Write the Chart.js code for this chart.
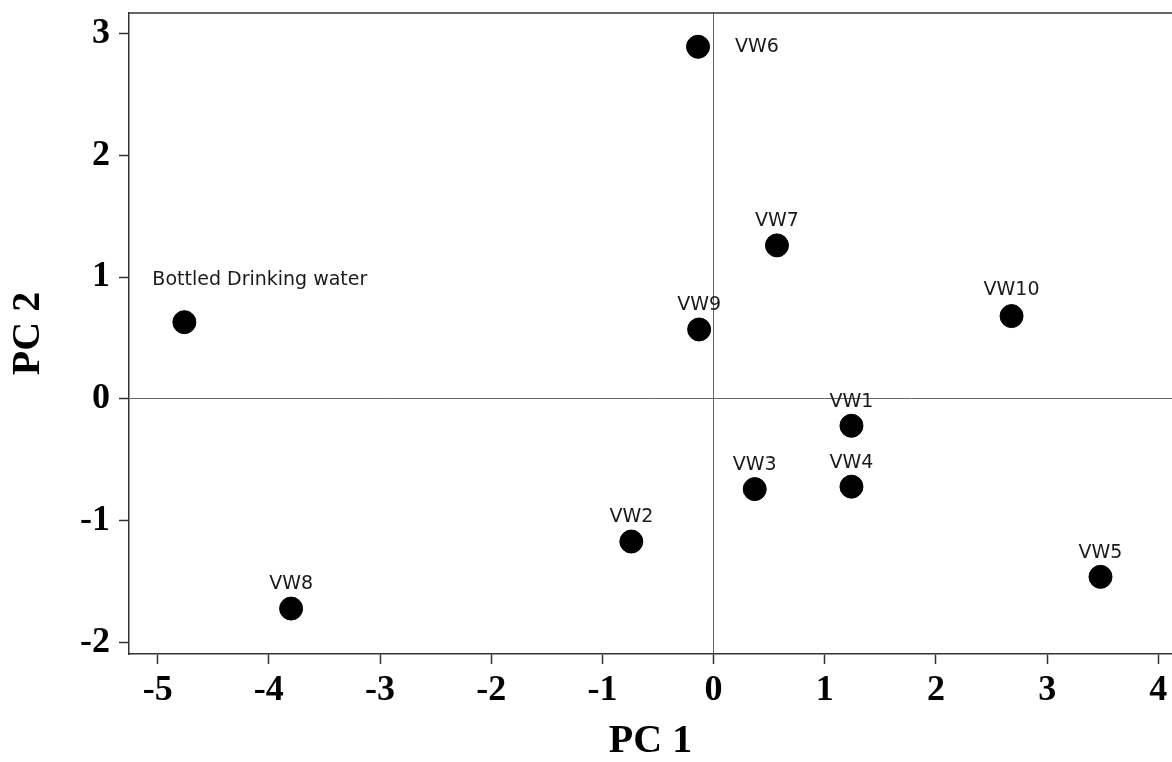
<!DOCTYPE html>
<html>
<head>
<meta charset="utf-8">
<script src="https://cdn.jsdelivr.net/npm/chart.js@4.4.1/dist/chart.umd.min.js"></script>
<style>
    html, body { margin: 0; padding: 0; background: #fff; overflow: hidden; }
    #wrap { width: 1172px; height: 762px; }
    canvas { display: block; }
</style>
</head>
<body>
<div id="wrap"><canvas id="chart" width="1172" height="762"></canvas></div>
<script>
// sample names and PCA scores
const samples = ['VW1', 'VW2', 'VW3', 'VW4', 'VW5', 'VW6', 'VW7', 'VW8', 'VW9', 'VW10', 'Bottled Drinking water'];
const pc1 = [1.24, -0.74, 0.37, 1.24, 3.48, -0.14, 0.57, -3.80, -0.13, 2.68, -4.76];
const pc2 = [-0.22, -1.17, -0.74, -0.72, -1.46, 2.89, 1.26, -1.72, 0.57, 0.68, 0.63];

const xTicks = [-5, -4, -3, -2, -1, 0, 1, 2, 3, 4];
const yTicks = [-2, -1, 0, 1, 2, 3];

// where each label sits relative to its point
const labelPlace = {
    'VW6': { dx: 37, dy: 0, align: 'left' },
    'VW10': { dx: 0, dy: -26, align: 'center' },
    'Bottled Drinking water': { dx: -32, dy: -42, align: 'left' }
};

const frameColor = '#333';
const zeroColor = '#666';

const pointLabels = {
    id: 'pointLabels',
    afterDatasetsDraw(chart) {
        const ctx = chart.ctx;
        const meta = chart.getDatasetMeta(0);
        ctx.save();
        ctx.font = '19px "DejaVu Sans"';
        ctx.fillStyle = '#1a1a1a';
        ctx.textBaseline = 'middle';
        meta.data.forEach((pt, i) => {
            const name = samples[i];
            const p = labelPlace[name] || { dx: 0, dy: -24, align: 'center' };
            ctx.textAlign = p.align;
            ctx.fillText(name, pt.x + p.dx, pt.y + p.dy);
        });
        ctx.restore();
    }
};

const topFrame = {
    id: 'topFrame',
    afterDraw(chart) {
        const { ctx, chartArea } = chart;
        ctx.save();
        ctx.strokeStyle = frameColor;
        ctx.lineWidth = 1.5;
        ctx.beginPath();
        ctx.moveTo(chartArea.left, chartArea.top);
        ctx.lineTo(chartArea.right, chartArea.top);
        ctx.stroke();
        ctx.restore();
    }
};

const tickFont = { family: '"Liberation Serif", "Times New Roman", serif', size: 36, weight: 'bold', lineHeight: 1 };
const titleFont = { family: '"Liberation Serif", "Times New Roman", serif', size: 40, weight: 'bold', lineHeight: 1 };

new Chart(document.getElementById('chart'), {
    type: 'scatter',
    data: {
        datasets: [{
            data: pc1.map((x, i) => ({ x: x, y: pc2[i] })),
            backgroundColor: '#000',
            borderColor: '#000',
            pointRadius: 11.5,
            pointHoverRadius: 11.5
        }]
    },
    options: {
        responsive: false,
        animation: false,
        events: [],
        layout: { autoPadding: false, padding: { top: 13, right: 0, bottom: 0, left: 0 } },
        plugins: {
            legend: { display: false },
            tooltip: { enabled: false }
        },
        scales: {
            x: {
                type: 'linear',
                min: -5.258,
                max: 4.123,
                afterBuildTicks: (s) => { s.ticks = xTicks.map(v => ({ value: v })); },
                afterFit: (s) => { s.height = 108; s.paddingLeft = 0; s.paddingRight = 0; },
                ticks: { font: tickFont, color: '#000', padding: 9, maxRotation: 0, includeBounds: false },
                grid: {
                    color: (c) => (c.tick && c.tick.value === 0) ? zeroColor : 'rgba(0,0,0,0)',
                    lineWidth: 1,
                    tickColor: frameColor,
                    tickLength: 10,
                    tickWidth: 1.5
                },
                border: { color: frameColor, width: 1.5 },
                title: { display: true, text: 'PC 1', font: titleFont, color: '#000', padding: { top: 0, bottom: 0 } }
            },
            y: {
                type: 'linear',
                min: -2.093,
                max: 3.167,
                afterBuildTicks: (s) => { s.ticks = yTicks.map(v => ({ value: v })); },
                afterFit: (s) => { s.width = 129; s.paddingTop = 0; s.paddingBottom = 0; },
                ticks: { font: tickFont, color: '#000', padding: 9, includeBounds: false },
                grid: {
                    color: (c) => (c.tick && c.tick.value === 0) ? zeroColor : 'rgba(0,0,0,0)',
                    lineWidth: 1,
                    tickColor: frameColor,
                    tickLength: 10,
                    tickWidth: 1.5
                },
                border: { color: frameColor, width: 1.5 },
                title: { display: true, text: 'PC 2', font: titleFont, color: '#000', padding: { top: 9, bottom: 0 } }
            }
        }
    },
    plugins: [pointLabels, topFrame]
});
</script>
</body>
</html>
